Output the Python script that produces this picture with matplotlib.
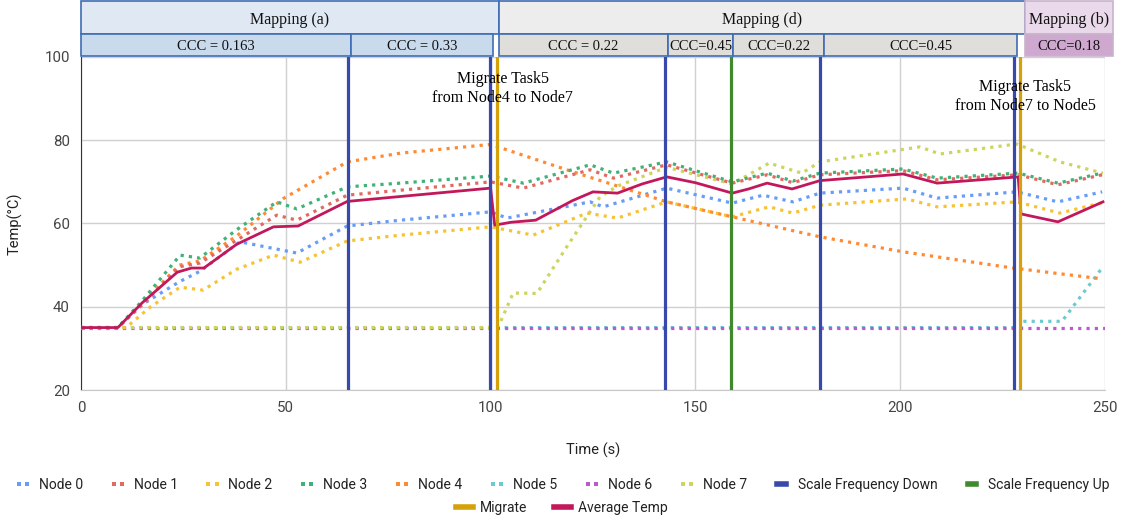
import matplotlib
matplotlib.use("Agg")
import matplotlib.pyplot as plt
from matplotlib.patches import Rectangle
from matplotlib.lines import Line2D
from matplotlib.colors import to_rgb

# ---------------- data ----------------
node_names = ["Node 0", "Node 1", "Node 2", "Node 3", "Node 4", "Node 5", "Node 6", "Node 7"]
node_colors = ["#4285f4", "#db4437", "#f4b400", "#0f9d58", "#ff6d01", "#46bdc6", "#ab30c4", "#c0ca33"]

t_node0 = [0, 9, 14, 24, 29, 38.8, 52.7, 65, 78, 100, 104, 124.3, 127.5, 143, 159, 166.5, 173.8, 180.4, 200.7, 209, 228.5, 238.5, 249.3]
y_node0 = [35, 35, 40, 46, 48.5, 55.6, 52.9, 59.4, 60.8, 62.8, 61.3, 65.2, 64, 68.5, 64.9, 66.8, 65.2, 67.3, 68.5, 66.1, 67.6, 65.2, 67.6]

t_node1 = [0, 9, 15, 24, 29, 38, 47.8, 52.7, 65, 78, 100, 108, 124.3, 130, 143, 159, 167.5, 173.8, 180.4, 200.7, 209, 228.8, 238.5, 249.3]
y_node1 = [35, 35, 40.5, 49.6, 50.5, 56, 62, 60.8, 66.8, 68, 70, 68.5, 72.9, 70.9, 74.1, 69.7, 71.7, 69.8, 71.7, 72.7, 70.5, 71.7, 69.3, 71.7]

t_node2 = [0, 11, 17, 24.2, 29.8, 38, 47, 53.5, 65, 78, 100, 110.4, 123.5, 131, 143, 159, 168, 173.8, 180.4, 201.6, 209, 228.5, 239, 249.3]
y_node2 = [35, 35, 40, 44.7, 44, 49, 52.4, 50.7, 55.8, 57.2, 59.2, 57.2, 62.5, 61.3, 65.2, 61.6, 64, 62.5, 64.4, 65.9, 64, 65.2, 62.5, 65]

t_node3 = [0, 9, 15, 24.2, 29, 38, 47.8, 52.7, 65, 78, 100, 108, 124.3, 130, 143, 159, 167.5, 173.8, 180.4, 200.7, 209, 228.8, 238.5, 249.3]
y_node3 = [35, 35, 41.5, 52.4, 51.7, 58.5, 65.2, 63.5, 68.8, 69.7, 71.4, 69.7, 74.1, 72.1, 74.8, 70, 72.1, 70.2, 72.1, 73.1, 70.9, 72.1, 69.7, 72.1]

t_node4 = [0, 9, 15, 24, 29, 38, 49.4, 65, 78, 100, 118.6, 143, 159, 180.4, 200.7, 227.5, 249.3]
y_node4 = [35, 35, 41, 50, 51, 57, 66, 74.8, 76.9, 79, 72.9, 65.2, 61.6, 56.8, 53.2, 49.3, 46.7]

t_node5 = [0, 229.5, 230, 239.5, 249.5]
y_node5 = [35, 35, 36.5, 36.5, 49.6]

t_node6 = [0, 250]
y_node6 = [35, 35]

t_node7 = [0, 101.5, 102.3, 105.5, 111.3, 118.6, 126.7, 131, 143, 159, 168, 176, 180.4, 204.8, 209.7, 228.5, 239, 249.5]
y_node7 = [35, 35, 36.1, 43.3, 43.2, 54.4, 66.4, 69, 73.5, 69.5, 74.5, 72.1, 74.8, 78.4, 76.7, 79.1, 74.8, 72.1]

t_avg = [0, 9, 15, 23.5, 27, 30, 38, 47, 53, 65, 100, 101, 105, 111, 120, 125, 131, 137, 143, 150, 159, 163, 167.5, 173.6, 180.4, 200.7, 209, 228.8, 229.5, 238.5, 249.5]
y_avg = [35, 35, 41, 48.3, 49.3, 49.3, 55, 59.2, 59.4, 65.3, 68.5, 59.6, 60.3, 60.8, 65.5, 67.6, 67.3, 69.5, 71.2, 69.8, 67.3, 68.3, 69.7, 68.3, 70.3, 71.9, 69.7, 71.2, 62.3, 60.4, 65.2]

freq_down_t = [65.3, 99.8, 142.7, 180.5, 227.9]
freq_up_t = [158.7]
migrate_t = [101.5, 229.3]

mapping_labels = ["Mapping (a)", "Mapping (d)", "Mapping (b)"]
ccc_labels = ["CCC = 0.163", "CCC = 0.33", "CCC = 0.22", "CCC=0.45", "CCC=0.22", "CCC=0.45", "CCC=0.18"]
annotations = ["Migrate Task5\nfrom Node4 to Node7", "Migrate Task5\nfrom Node7 to Node5"]

x_ticks = [0, 50, 100, 150, 200, 250]
y_ticks = [20, 40, 60, 80, 100]


def lighten(c, f=0.2):
    r, g, b = to_rgb(c)
    return (r + (1 - r) * f, g + (1 - g) * f, b + (1 - b) * f)


# ---------------- figure ----------------
W, H = 1124, 522
fig = plt.figure(figsize=(W / 100, H / 100), dpi=100)
ax = fig.add_axes([81 / W, 1 - 390 / H, 1024 / W, 333 / H])

node_t = [t_node0, t_node1, t_node2, t_node3, t_node4, t_node5, t_node6, t_node7]
node_y = [y_node0, y_node1, y_node2, y_node3, y_node4, y_node5, y_node6, y_node7]
draw_order = [5, 6, 7, 2, 0, 4, 1, 3]
for i in draw_order:
    ax.plot(node_t[i], node_y[i], color=lighten(node_colors[i]), lw=2.3,
            linestyle=(0, (1, 1.6)), zorder=3)

ax.plot(t_avg, y_avg, color="#c2185b", lw=2.0, zorder=5)

c_down, c_up, c_mig = "#3949ab", "#3f8a2e", "#d4a10a"
for t in freq_down_t:
    ax.axvline(t, color=c_down, lw=2.3, zorder=6)
for t in freq_up_t:
    ax.axvline(t, color=c_up, lw=2.3, zorder=6)
for t in migrate_t:
    ax.axvline(t, color=c_mig, lw=2.3, zorder=6)

ax.set_xlim(0, 250)
ax.set_ylim(20, 100)
ax.set_xticks(x_ticks)
ax.set_yticks(y_ticks)
ax.grid(True, color="#d0d0d0", lw=1)
ax.set_axisbelow(True)
for s in ["top", "right"]:
    ax.spines[s].set_visible(False)
ax.spines["left"].set_color("#333333")
ax.spines["bottom"].set_color("#c8c8c8")
ax.tick_params(length=0, labelsize=10.8, colors="#444444", pad=8)
for lab in ax.get_xticklabels() + ax.get_yticklabels():
    lab.set_family("Roboto")
ax.set_xlabel("Time (s)", family="Roboto", fontsize=10.5, color="#222222", labelpad=20)
ax.set_ylabel("Temp(°C)", family="Roboto", fontsize=10.5, color="#222222", labelpad=16)

# annotations
ax.text(103.0, 92.4, annotations[0], ha="center", va="center", family="Liberation Serif",
        fontsize=11.5, linespacing=1.25, zorder=8)
ax.text(230.5, 90.6, annotations[1], ha="center", va="center", family="Liberation Serif",
        fontsize=11.5, linespacing=1.25, zorder=8)

# ---------------- header boxes ----------------
def box(x0, x1, y0, y1, fc, ec, label, fs, dy):
    fig.patches.append(Rectangle((x0 / W, 1 - y1 / H), (x1 - x0) / W, (y1 - y0) / H,
                                 transform=fig.transFigure, fc=fc, ec=ec, lw=1.2))
    fig.text((x0 + x1) / 2 / W, 1 - ((y0 + y1) / 2 + dy) / H, label, ha="center", va="center",
             family="Liberation Serif", fontsize=fs, color="#111111")

top_spans = [(81, 499), (499, 1025), (1025, 1113)]
top_fc = ["#e0e8f4", "#ededed", "#e9d9ea"]
top_ec = ["#3f6db5", "#3f6db5", "#c8b4cc"]
for (x0, x1), fc, ec, lab in zip(top_spans, top_fc, top_ec, mapping_labels):
    box(x0, x1, 0.5, 34, fc, ec, lab, 11.5, 2.5)

sub_spans = [(81, 350.7), (350.7, 493), (499, 668), (668, 733), (733, 824), (824, 1017), (1025, 1113)]
sub_fc = ["#c9daed", "#c9daed", "#dfdedb", "#dfdedb", "#dfdedb", "#dfdedb", "#cfa8d0"]
sub_ec = ["#3f6db5"] * 6 + ["#c8b4cc"]
for (x0, x1), fc, ec, lab in zip(sub_spans, sub_fc, sub_ec, ccc_labels):
    box(x0, x1, 34, 56, fc, ec, lab, 10.5, 1.0)

# ---------------- legend ----------------
h1 = [Line2D([], [], color=lighten(c), linestyle="None", marker="s", markersize=3.0,
             markeredgewidth=0) for c in node_colors]
h1 += [Line2D([], [], color=c_down, lw=4), Line2D([], [], color=c_up, lw=4)]
l1 = node_names + ["Scale Frequency Down", "Scale Frequency Up"]
leg1 = fig.legend(h1, l1, loc="center", bbox_to_anchor=(0.5, 1 - 485 / H), ncol=10, frameon=False,
                  prop={"family": "Roboto", "size": 10}, handlelength=1.2, handletextpad=0.55,
                  columnspacing=1.9, labelcolor="#222222", numpoints=2)
h2 = [Line2D([], [], color=c_mig, lw=4), Line2D([], [], color="#c2185b", lw=4)]
leg2 = fig.legend(h2, ["Migrate", "Average Temp"], loc="center", bbox_to_anchor=(0.5, 1 - 508 / H),
                  ncol=2, frameon=False, prop={"family": "Roboto", "size": 10}, handlelength=1.2,
                  handletextpad=0.55, columnspacing=1.9, labelcolor="#222222")

fig.savefig("out.png", dpi=100)
